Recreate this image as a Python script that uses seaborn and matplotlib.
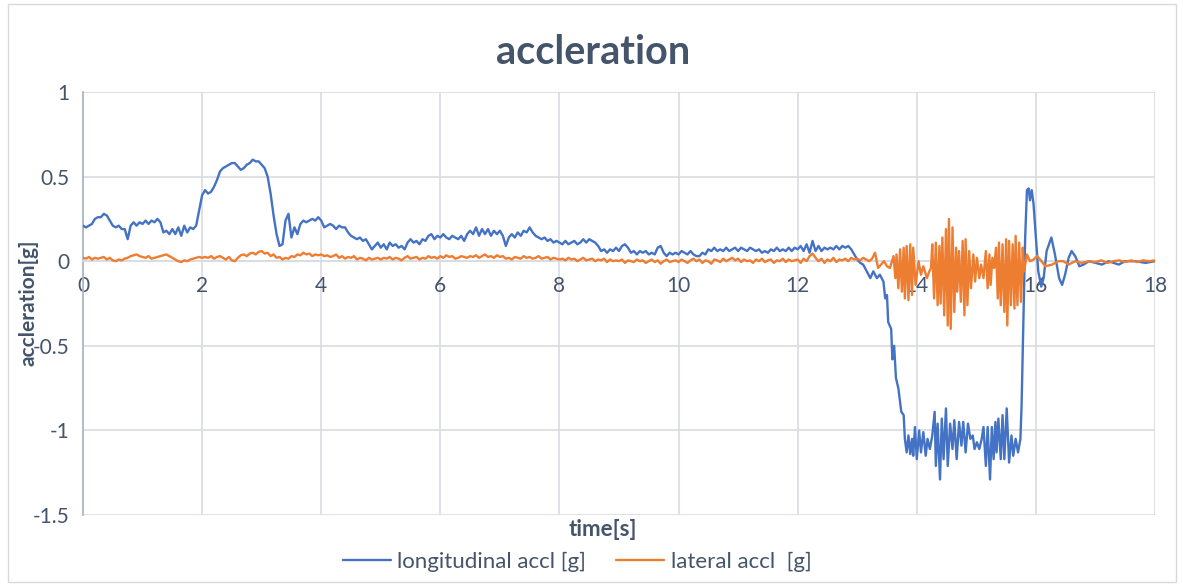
import numpy as np
import pandas as pd
import matplotlib
matplotlib.use("Agg")
import matplotlib.pyplot as plt
import seaborn as sns
from matplotlib.patches import Rectangle

# ---------------- data ----------------
SAMPLE_STEP = 0.05  # seconds between the dense samples below
lon_dense = [
    0.21,0.20,0.21,0.22,0.25,0.26,0.26,0.28,0.27,0.24,0.21,0.20,0.21,0.19,0.19,0.13,0.21,0.23,0.21,0.23,
    0.22,0.24,0.22,0.24,0.23,0.25,0.23,0.17,0.18,0.16,0.19,0.16,0.20,0.15,0.21,0.17,0.20,0.19,0.21,0.30,
    0.39,0.42,0.40,0.41,0.44,0.48,0.53,0.55,0.56,0.57,0.58,0.58,0.56,0.54,0.55,0.57,0.58,0.60,0.59,0.59,
    0.57,0.55,0.50,0.40,0.27,0.16,0.09,0.10,0.24,0.28,0.14,0.20,0.16,0.22,0.24,0.23,0.24,0.25,0.24,0.26,
    0.24,0.20,0.21,0.22,0.21,0.19,0.21,0.20,0.20,0.17,0.15,0.14,0.13,0.14,0.12,0.13,0.10,0.07,0.09,0.11,
    0.08,0.10,0.07,0.11,0.09,0.10,0.08,0.09,0.07,0.11,0.13,0.11,0.12,0.10,0.13,0.12,0.15,0.16,0.13,0.15,
    0.14,0.16,0.14,0.13,0.15,0.14,0.13,0.15,0.12,0.16,0.18,0.16,0.20,0.15,0.19,0.16,0.19,0.15,0.18,0.16,
    0.18,0.15,0.09,0.14,0.16,0.14,0.17,0.15,0.18,0.17,0.20,0.17,0.15,0.14,0.13,0.14,0.12,0.13,0.11,0.12,
    0.11,0.10,0.12,0.10,0.11,0.12,0.10,0.11,0.13,0.11,0.13,0.12,0.11,0.09,0.06,0.07,0.05,0.07,0.06,0.08,
    0.06,0.09,0.10,0.08,0.05,0.06,0.04,0.06,0.05,0.06,0.04,0.05,0.04,0.08,0.09,0.05,0.03,0.05,0.04,0.05,
    0.04,0.06,0.05,0.04,0.06,0.04,0.03,0.03,0.05,0.04,0.07,0.06,0.08,0.06,0.07,0.06,0.08,0.06,0.07,0.08,
    0.06,0.08,0.07,0.06,0.08,0.07,0.06,0.07,0.05,0.06,0.05,0.07,0.06,0.08,0.06,0.07,0.06,0.08,0.06,0.08,
    0.07,0.09,0.06,0.10,0.05,0.12,0.06,0.09,0.06,0.08,0.07,0.08,0.07,0.09,0.07,0.09,0.08,0.09,0.07,0.04,
    0.01,
]
lon_tail_t = [
    13.05,13.10,13.16,13.22,13.27,13.33,13.38,13.44,13.47,13.50,13.52,13.57,13.59,13.62,13.65,13.69,13.74,13.78,
    13.80,13.83,13.86,13.89,13.92,13.94,13.97,14.00,14.04,14.07,14.11,14.15,14.18,14.22,14.26,14.30,14.32,14.35,
    14.39,14.42,14.45,14.49,14.52,14.56,14.60,14.63,14.67,14.71,14.75,14.78,14.82,14.86,14.90,14.94,14.97,15.01,
    15.05,15.09,15.12,15.16,15.19,15.23,15.26,15.29,15.32,15.34,15.37,15.41,15.44,15.47,15.51,15.55,15.59,15.62,
    15.66,15.70,15.74,15.76,15.79,15.82,15.85,15.88,15.90,15.93,15.96,16.00,16.04,16.09,16.13,16.18,16.26,16.32,
    16.39,16.44,16.49,16.55,16.60,16.66,16.73,16.80,16.89,17.00,17.11,17.22,17.39,17.50,17.67,17.84,18.00,
]
lon_tail_v = [
    -0.01,-0.02,-0.06,-0.10,-0.06,-0.10,-0.08,-0.12,-0.22,-0.20,-0.36,-0.40,-0.58,-0.50,-0.69,-0.75,-0.89,-0.91,
    -1.05,-1.13,-1.03,-1.14,-1.05,-1.15,-0.98,-1.17,-1.00,-1.13,-1.01,-1.15,-1.05,-1.11,-1.03,-0.89,-1.21,-0.96,
    -1.29,-0.93,-1.17,-0.87,-1.21,-0.96,-1.11,-0.94,-1.17,-0.95,-1.09,-0.95,-1.13,-0.96,-1.05,-1.03,-1.11,-1.07,
    -1.11,-1.05,-0.98,-1.21,-0.98,-1.29,-0.98,-1.17,-0.95,-1.13,-0.93,-1.17,-0.91,-1.17,-0.87,-1.19,-1.03,-1.15,
    -1.05,-1.13,-1.05,-0.85,-0.36,0.14,0.42,0.43,0.36,0.42,0.34,0.14,-0.06,-0.15,-0.10,0.06,0.14,0.04,
    -0.10,-0.14,-0.08,0.02,0.06,0.03,-0.03,-0.02,0.00,-0.01,-0.02,0.00,-0.02,0.00,0.00,-0.01,0.00,
]

lat_dense = [
    0.02,0.015,0.025,0.01,0.02,0.015,0.02,0.025,0.01,0.02,0.005,0.0,0.01,0.005,0.015,0.02,0.03,0.035,0.04,0.03,
    0.025,0.02,0.03,0.015,0.02,0.025,0.03,0.035,0.04,0.03,0.02,0.01,0.0,-0.005,0.005,0.0,0.01,0.015,0.02,0.025,
    0.02,0.025,0.02,0.03,0.015,0.025,0.03,0.02,0.01,0.025,0.005,0.0,0.02,0.035,0.04,0.03,0.045,0.05,0.04,0.055,
    0.06,0.045,0.05,0.03,0.04,0.02,0.025,0.01,0.02,0.015,0.03,0.025,0.04,0.035,0.05,0.04,0.045,0.03,0.04,0.035,
    0.04,0.03,0.035,0.025,0.03,0.04,0.02,0.03,0.015,0.025,0.02,0.03,0.01,0.02,0.015,0.005,0.02,0.01,0.015,0.02,
    0.01,0.02,0.015,0.025,0.01,0.02,0.015,0.005,0.02,0.03,0.015,0.02,0.025,0.01,0.02,0.015,0.03,0.02,0.025,0.015,
    0.03,0.02,0.035,0.025,0.03,0.015,0.02,0.03,0.025,0.02,0.03,0.025,0.035,0.02,0.03,0.04,0.025,0.03,0.02,0.035,
    0.025,0.03,0.015,0.02,0.01,0.025,0.02,0.015,0.03,0.02,0.025,0.015,0.02,0.03,0.015,0.02,0.025,0.01,0.02,0.015,
    0.01,0.015,0.005,0.02,0.01,0.015,0.0,0.01,0.02,0.005,0.01,0.015,0.0,0.01,0.005,0.015,-0.005,0.01,0.0,0.005,
    0.0,0.01,-0.01,0.005,0.0,-0.005,0.01,0.0,0.005,-0.01,0.0,0.01,-0.005,0.005,-0.015,0.0,0.01,-0.005,0.0,0.005,
    -0.005,0.01,0.0,-0.01,0.005,0.015,0.0,0.01,-0.01,0.005,0.0,-0.015,0.01,0.005,-0.005,0.015,0.0,0.01,0.02,0.005,
    0.015,-0.005,0.01,0.0,0.005,-0.01,0.01,0.0,0.015,-0.005,0.005,0.01,-0.01,0.005,0.0,0.015,-0.005,0.01,0.0,0.005,
    0.01,-0.01,0.015,0.0,0.03,0.045,0.02,0.0,0.015,-0.01,0.01,0.0,0.02,-0.005,0.01,0.005,0.015,0.0,0.02,0.01,
    0.015,0.005,0.02,0.01,0.0,0.015,0.05,-0.04,-0.02,0.0,-0.03,-0.04,
]
lat_tail_t = [
    13.61,13.64,13.66,13.69,13.72,13.75,13.78,13.80,13.83,13.86,13.89,13.92,13.94,13.98,14.03,14.07,14.11,14.17,
    14.21,14.24,14.26,14.29,14.32,14.35,14.38,14.40,14.43,14.46,14.49,14.52,14.54,14.57,14.60,14.63,14.66,14.68,
    14.71,14.74,14.77,14.80,14.82,14.85,14.88,14.91,14.95,14.98,15.01,15.05,15.08,15.12,15.16,15.19,15.22,15.24,
    15.27,15.30,15.33,15.36,15.38,15.41,15.44,15.47,15.50,15.52,15.55,15.58,15.61,15.64,15.66,15.69,15.72,15.75,
    15.78,15.80,15.85,15.90,15.96,16.02,16.07,16.16,16.27,16.38,16.46,16.55,16.66,16.77,16.89,17.00,17.10,17.20,
    17.30,17.40,17.50,17.60,17.70,17.80,17.90,18.00,
]
lat_tail_v = [
    0.03,-0.10,0.04,-0.16,0.07,-0.18,0.08,-0.22,0.09,-0.23,0.10,-0.20,0.08,-0.14,0.00,-0.08,-0.03,-0.10,
    -0.06,-0.04,0.10,-0.22,0.11,-0.26,0.09,-0.25,0.14,-0.32,0.19,-0.38,0.25,-0.40,0.20,-0.30,0.08,-0.18,
    0.06,-0.24,0.12,-0.32,0.13,-0.26,0.06,-0.16,0.04,-0.12,0.02,-0.10,-0.02,-0.10,0.06,-0.16,0.04,-0.14,
    0.02,-0.04,0.08,-0.22,0.11,-0.26,0.10,-0.30,0.13,-0.38,0.12,-0.26,0.10,-0.28,0.15,-0.26,0.11,-0.24,
    0.08,-0.06,0.04,0.00,0.01,0.03,0.01,-0.03,-0.02,0.00,0.00,-0.02,0.00,-0.01,0.00,-0.005,0.005,-0.01,
    0.0,0.005,-0.005,0.005,-0.005,0.005,0.0,0.005,
]

series_names = ["longitudinal accl [g]", "lateral accl  [g]"]
x_ticks = [0, 2, 4, 6, 8, 10, 12, 14, 16, 18]
y_ticks = [-1.5, -1, -0.5, 0, 0.5, 1]
y_tick_labels = ["-1.5", "-1", "-0.5", "0", "0.5", "1"]

# ---------------- build frames ----------------
lon_t = list(np.round(np.arange(len(lon_dense)) * SAMPLE_STEP, 3)) + lon_tail_t
lon_v = lon_dense + lon_tail_v
lat_t = list(np.round(np.arange(len(lat_dense)) * SAMPLE_STEP, 3)) + lat_tail_t
lat_v = lat_dense + lat_tail_v
df = pd.concat([
    pd.DataFrame({"t": lon_t, "v": lon_v, "series": series_names[0]}),
    pd.DataFrame({"t": lat_t, "v": lat_v, "series": series_names[1]}),
], ignore_index=True)

# ---------------- plot ----------------
sns.set_theme(style="white")
plt.rcParams["font.family"] = ["Lato", "DejaVu Sans"]
TXT = "#44546A"
GRID = "#D9DCE3"

W, H = 1183, 584
fig = plt.figure(figsize=(W / 100, H / 100), dpi=100)
ax = fig.add_axes([83 / W, 1 - 515 / H, (1155 - 83) / W, (515 - 92) / H])

palette = {series_names[0]: "#4472C4", series_names[1]: "#ED7D31"}
sns.lineplot(data=df, x="t", y="v", hue="series", palette=palette, ax=ax,
             linewidth=1.7, sort=False, estimator=None, legend=False, zorder=3)

ax.set_xlim(0, 18)
ax.set_ylim(-1.5, 1)
ax.set_xticks(x_ticks)
ax.set_xticklabels([str(v) for v in x_ticks])
ax.set_yticks(y_ticks)
ax.set_yticklabels(y_tick_labels)
ax.grid(True, color=GRID, linewidth=1.2, zorder=0)
ax.set_axisbelow(True)

for s in ["top", "right"]:
    ax.spines[s].set_visible(False)
ax.spines["bottom"].set_position(("data", 0))
ax.spines["bottom"].set_color(GRID)
ax.spines["bottom"].set_linewidth(1.2)
ax.spines["left"].set_color("#AEB6C6")
ax.spines["left"].set_linewidth(1.3)
ax.tick_params(axis="both", length=0, labelsize=15, labelcolor=TXT)
ax.tick_params(axis="x", pad=11)
ax.tick_params(axis="y", pad=10)
ax.set_xlabel("")
ax.set_ylabel("")

fig.text(593 / W, 1 - 52 / H, "accleration", ha="center", va="center",
         fontsize=28.5, fontweight="bold", color=TXT)
fig.text(603 / W, 1 - 529 / H, "time[s]", ha="center", va="center",
         fontsize=16, fontweight="bold", color=TXT)
fig.text(29 / W, 1 - 303 / H, "accleration[g]", ha="center", va="center",
         rotation=90, fontsize=15, fontweight="bold", color=TXT)

handles = [plt.Line2D([], [], color=palette[n], linewidth=1.7) for n in series_names]
fig.legend(handles, series_names, loc="center", bbox_to_anchor=(577 / W, 1 - 562 / H),
           ncol=2, frameon=False, fontsize=16, labelcolor=TXT, handlelength=2.15,
           columnspacing=1.35, handletextpad=0.3)

fig.patches.append(Rectangle((8 / W, 2 / H), (1176 - 8) / W, (580 - 2) / H,
                             transform=fig.transFigure, fill=False,
                             edgecolor="#D9D9D9", linewidth=1))

fig.savefig("out.png", dpi=100)
